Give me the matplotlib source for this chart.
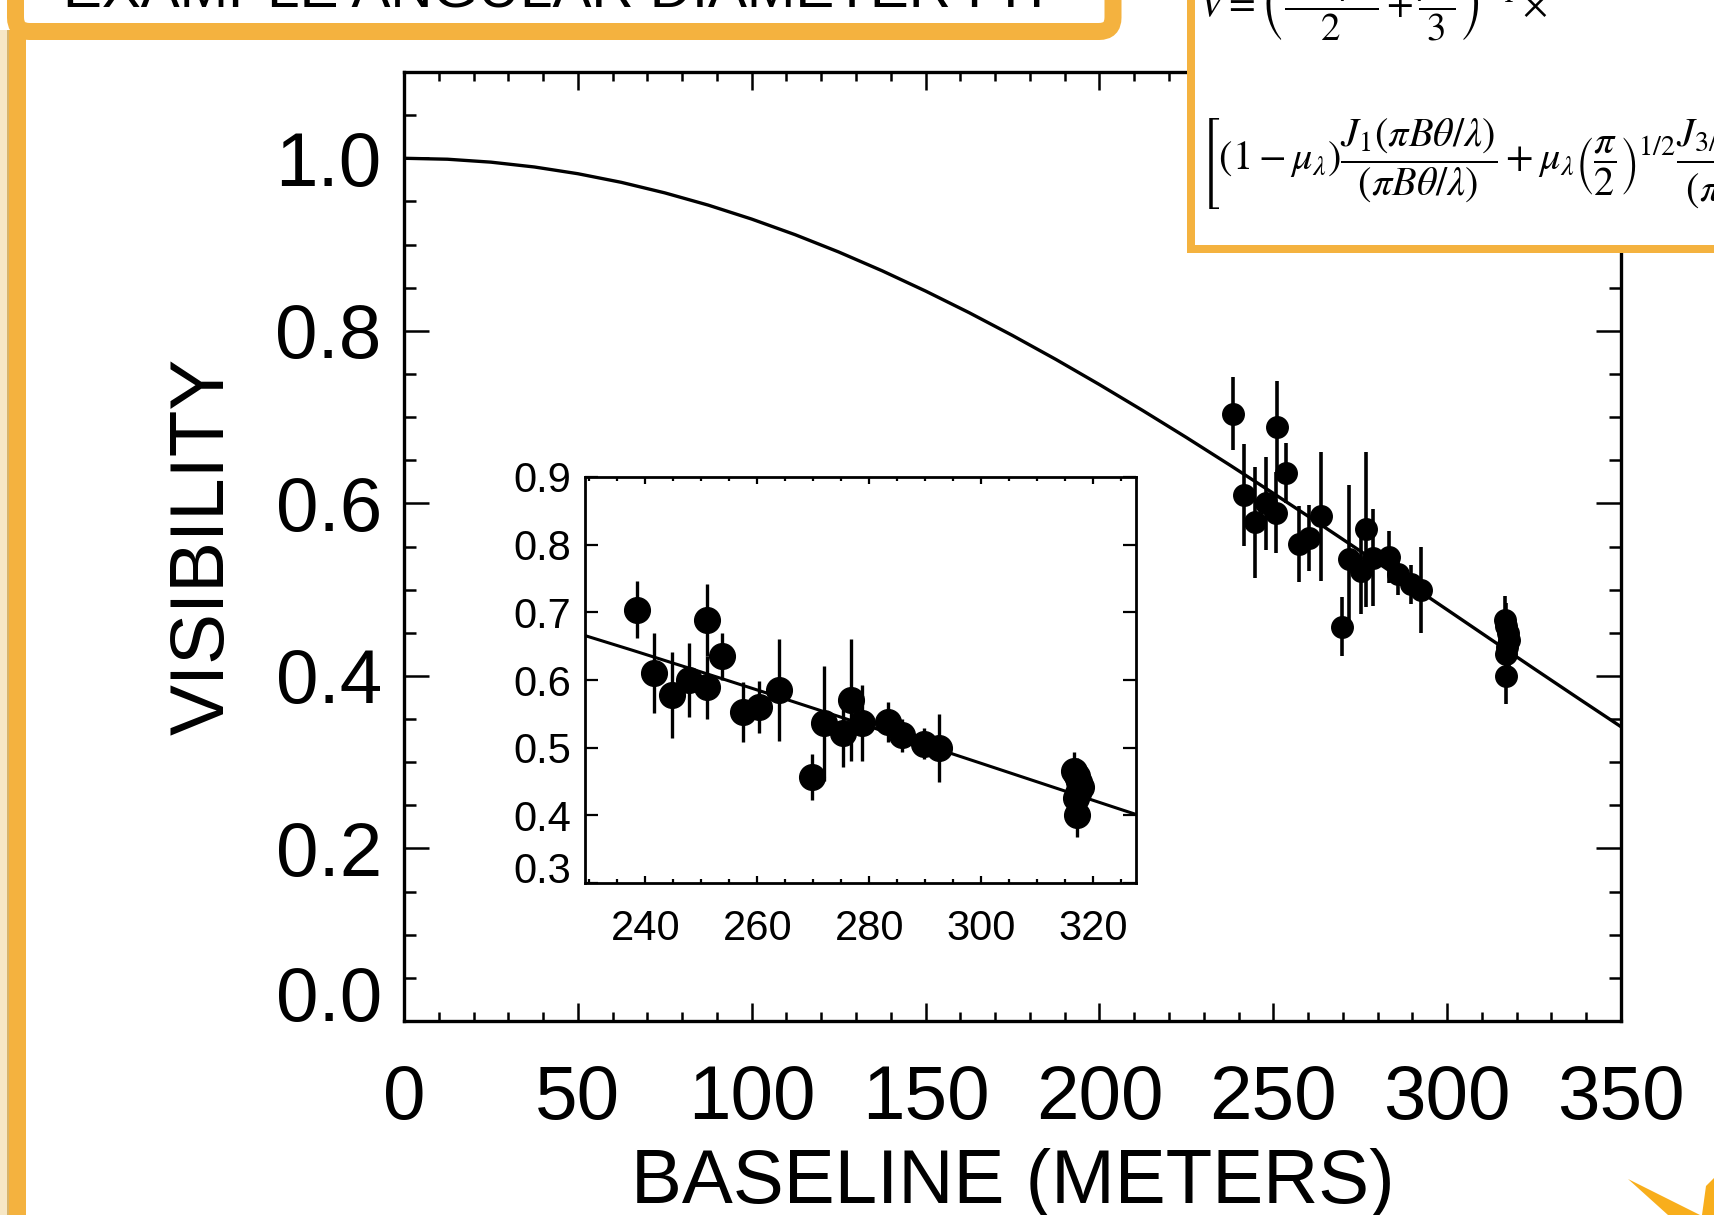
import matplotlib
matplotlib.use("Agg")
import matplotlib.pyplot as plt
from matplotlib.patches import Rectangle, FancyBboxPatch, Polygon
from matplotlib.ticker import MultipleLocator, FuncFormatter
import matplotlib.transforms as mtransforms

# ---------------- data ----------------
baseline_m = [238.5, 241.5, 244.8, 247.8, 251.0, 250.9, 253.7, 257.4, 260.3, 263.8,
              269.7, 271.8, 275.2, 276.7, 278.6, 283.3, 285.9, 289.7, 292.4,
              316.6, 317.0, 317.4, 317.8, 317.2, 316.8, 317.0]
visibility = [0.704, 0.610, 0.578, 0.600, 0.689, 0.589, 0.635, 0.553, 0.560, 0.585,
              0.457, 0.536, 0.522, 0.570, 0.537, 0.538, 0.518, 0.506, 0.500,
              0.465, 0.458, 0.450, 0.442, 0.433, 0.425, 0.400]
vis_err = [0.042, 0.059, 0.064, 0.054, 0.053, 0.047, 0.035, 0.044, 0.038, 0.075,
           0.034, 0.085, 0.050, 0.090, 0.056, 0.030, 0.024, 0.023, 0.050,
           0.028, 0.027, 0.025, 0.030, 0.028, 0.025, 0.032]

model_baseline = [0, 12.5, 25, 37.5, 50, 62.5, 75, 87.5, 100, 112.5, 125, 137.5, 150,
                  162.5, 175, 187.5, 200, 212.5, 225, 237.5, 250, 262.5, 275, 287.5,
                  300, 312.5, 325, 337.5, 350]
model_vis = [1.000, 0.9989, 0.9955, 0.9899, 0.9821, 0.9721, 0.9599, 0.9457, 0.9295,
             0.9114, 0.8914, 0.8696, 0.8461, 0.8211, 0.7946, 0.7668, 0.7377, 0.7075,
             0.6764, 0.6444, 0.6117, 0.5785, 0.5448, 0.5108, 0.4767, 0.4425, 0.4084,
             0.3746, 0.3411]

main_xticks = [0, 50, 100, 150, 200, 250, 300, 350]
main_yticks = [0.0, 0.2, 0.4, 0.6, 0.8, 1.0]
inset_xticks = [240, 260, 280, 300, 320]
inset_yticks = [0.3, 0.4, 0.5, 0.6, 0.7, 0.8, 0.9]

title_text = "EXAMPLE ANGULAR DIAMETER FIT"
x_label = "BASELINE (METERS)"
y_label = "VISIBILITY"
_arg = r"\left(\pi B\theta/\lambda\right)"
eq_line1 = r"$V=\left(\dfrac{1-\mu_\lambda}{2}+\dfrac{\mu_\lambda}{3}\right)^{-1}\times$"
eq_line2 = (r"$\left[\left(1-\mu_\lambda\right)\dfrac{J_1" + _arg + "}{" + _arg +
            r"}+\mu_\lambda\left(\dfrac{\pi}{2}\right)^{1/2}\dfrac{J_{3/2}" + _arg +
            "}{" + _arg + r"^{3/2}}\right]$")

# ---------------- style ----------------
plt.rcParams["font.family"] = ["Liberation Sans", "DejaVu Sans"]
plt.rcParams["mathtext.fontset"] = "stix"
ORANGE = "#F4B23F"
W, H = 1714, 1215
fig = plt.figure(figsize=(W / 100, H / 100), dpi=100)
fig.patch.set_facecolor("white")

# background overlay (pixel coordinates, origin top-left)
bg = fig.add_axes([0, 0, 1, 1], zorder=0)
bg.set_xlim(0, W); bg.set_ylim(H, 0); bg.axis("off")
bg.add_patch(Rectangle((0, 30), 7, 1300, fc="#F7E7C5", ec="none"))
bg.add_patch(Rectangle((7, 30), 2.5, 1300, fc="#D8B46A", ec="none"))
bg.add_patch(Rectangle((9, 30), 17, 1300, fc=ORANGE, ec="none"))
bg.add_patch(FancyBboxPatch((15.5, -120), 1097.5, 151.5,
                            boxstyle="round,pad=0,rounding_size=14",
                            fc="white", ec=ORANGE, lw=17 * 0.72))
bg.text(63, 7, title_text, fontsize=42, color="black", va="baseline", ha="left")

# ---------------- main axes ----------------
ax = fig.add_axes([404 / W, 1 - 1021 / H, (1621 - 404) / W, (1021 - 72) / H], zorder=1)
ax.plot(model_baseline, model_vis, color="black", lw=2.4, zorder=2)
ax.errorbar(baseline_m, visibility, yerr=vis_err, fmt="o", color="black",
            ms=15.5, elinewidth=2.6, capsize=0, zorder=3)
ax.set_xlim(0, 350)
ax.set_ylim(0, 1.1)
ax.set_xticks(main_xticks)
ax.set_yticks(main_yticks)
ax.xaxis.set_minor_locator(MultipleLocator(10))
ax.yaxis.set_minor_locator(MultipleLocator(0.05))
ax.yaxis.set_major_formatter(FuncFormatter(lambda v, p: "" if abs(v) < 1e-9 else f"{v:.1f}"))
ax.tick_params(which="both", direction="in", top=True, right=True, width=1.8, color="black")
ax.tick_params(axis="x", which="major", length=13, pad=31, labelsize=55)
ax.tick_params(axis="x", which="minor", length=6.5)
ax.tick_params(axis="y", which="major", length=18, pad=16, labelsize=55)
ax.tick_params(axis="y", which="minor", length=8.6)
for s in ax.spines.values():
    s.set_linewidth(2.4)
trans_y = mtransforms.blended_transform_factory(ax.transAxes, ax.transData)
ax.text(-22 / 1217, 0.0, "0.0", transform=trans_y, ha="right", va="baseline", fontsize=55)
ax.set_xlabel(x_label, fontsize=55, labelpad=9)
ax.set_ylabel(y_label, fontsize=55, labelpad=26)

# ---------------- inset ----------------
axi = fig.add_axes([585 / W, 1 - 883 / H, (1136 - 585) / W, (883 - 477) / H], zorder=2)
axi.plot(model_baseline, model_vis, color="black", lw=2.2, zorder=2)
axi.errorbar(baseline_m, visibility, yerr=vis_err, fmt="o", color="black",
             ms=18.5, elinewidth=2.4, capsize=0, zorder=3)
axi.set_xlim(229.2, 327.6)
axi.set_ylim(0.3, 0.9)
axi.set_xticks(inset_xticks)
axi.set_yticks(inset_yticks)
axi.xaxis.set_minor_locator(MultipleLocator(5))
axi.yaxis.set_major_formatter(FuncFormatter(lambda v, p: "" if abs(v - 0.3) < 1e-9 else f"{v:.1f}"))
axi.tick_params(which="both", direction="in", top=True, right=True, width=1.6)
axi.tick_params(axis="x", which="major", length=5, pad=19, labelsize=30)
axi.tick_params(axis="x", which="minor", length=3)
axi.tick_params(axis="y", which="major", length=9.5, pad=10, labelsize=30)
for s in axi.spines.values():
    s.set_linewidth(2.0)
trans_yi = mtransforms.blended_transform_factory(axi.transAxes, axi.transData)
axi.text(-14 / 551, 0.3, "0.3", transform=trans_yi, ha="right", va="baseline", fontsize=30)

# ---------------- foreground overlay ----------------
fg = fig.add_axes([0, 0, 1, 1], zorder=5)
fg.set_xlim(0, W); fg.set_ylim(H, 0); fg.axis("off")
fg.patch.set_alpha(0)
fg.add_patch(Rectangle((1191, -60), 700, 309, fc="white", ec=ORANGE, lw=8 * 0.72))
fg.text(1199, 17, eq_line1, fontsize=28, ha="left", va="baseline", color="black")
fg.text(1200, 170, eq_line2, fontsize=29, ha="left", va="baseline", color="black")
fg.add_patch(Polygon([(1628, 1179), (1700, 1215), (1668, 1215)], closed=True,
                     fc="#F8AE1C", ec="none"))
fg.add_patch(Polygon([(1706, 1186), (1714, 1178), (1714, 1215), (1702, 1215)], closed=True,
                     fc="#F8AE1C", ec="none"))

fig.savefig("out.png", dpi=100, facecolor="white")
